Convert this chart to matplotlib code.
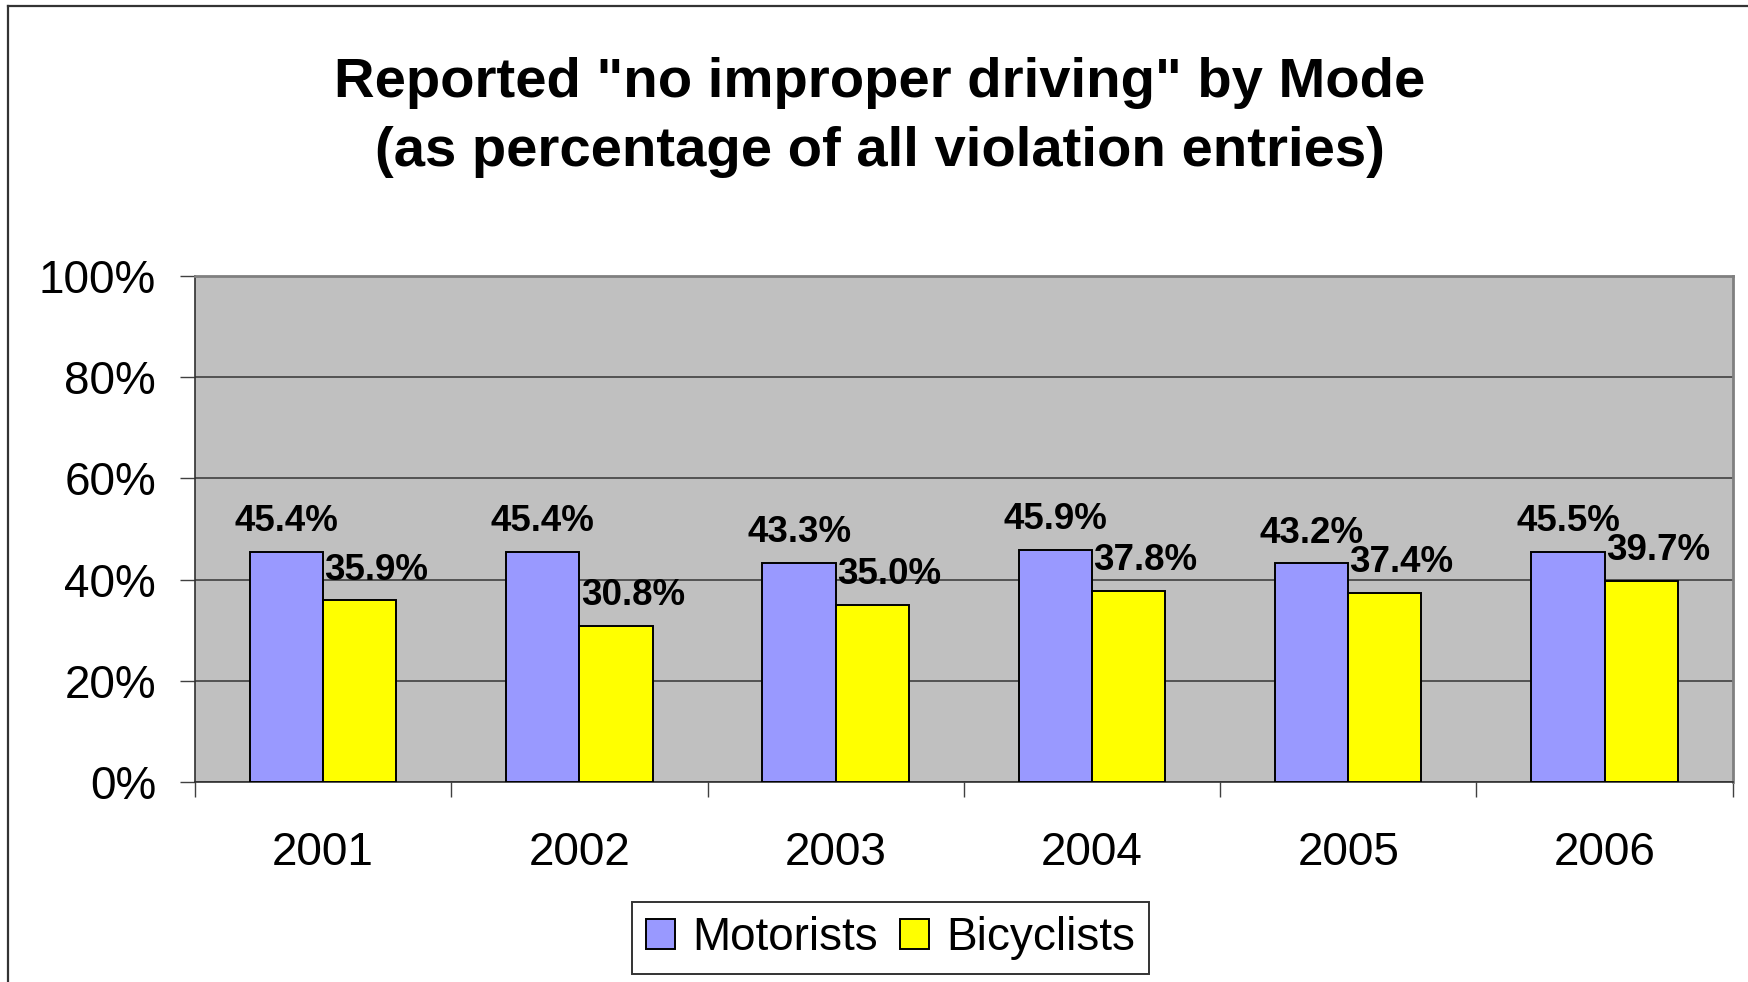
import numpy as np
import matplotlib.pyplot as plt
from matplotlib.lines import Line2D

plt.rcParams['font.family'] = ['Liberation Sans', 'DejaVu Sans']

# Data
years = ['2001', '2002', '2003', '2004', '2005', '2006']
motorists = [45.4, 45.4, 43.3, 45.9, 43.2, 45.5]
bicyclists = [35.9, 30.8, 35.0, 37.8, 37.4, 39.7]
yticks = [0, 20, 40, 60, 80, 100]

# Plot
fig = plt.figure(figsize=(17.49, 9.82), dpi=100)
ax = fig.add_axes([195 / 1749, 1 - 782.3 / 982, 1537.7 / 1749, 506.6 / 982])

x = np.arange(len(years))
w = 1 / 3.5
ax.bar(x - w / 2, motorists, w, color='#9999FF', edgecolor='black',
       linewidth=1.4, label='Motorists', zorder=3)
ax.bar(x + w / 2, bicyclists, w, color='#FFFF00', edgecolor='black',
       linewidth=1.4, label='Bicyclists', zorder=3)

for i in range(len(years)):
    ax.annotate('%.1f%%' % motorists[i], (x[i] - w / 2, motorists[i]),
                xytext=(0, 15), textcoords='offset points', ha='center',
                va='baseline', fontsize=26.5, fontweight='bold', zorder=4)
    ax.annotate('%.1f%%' % bicyclists[i], (x[i] + w / 2, bicyclists[i]),
                xytext=(12, 15), textcoords='offset points', ha='center',
                va='baseline', fontsize=26.5, fontweight='bold', zorder=4)

ax.set_facecolor('#C0C0C0')
ax.set_xlim(-0.5, len(years) - 0.5)
ax.set_ylim(0, 100)
ax.set_yticks(yticks)
ax.set_yticklabels(['%d%%' % v for v in yticks])
ax.yaxis.grid(True, color='#404040', linewidth=1.2, zorder=1)

# category boundaries get the ticks, centers get the labels
ax.set_xticks(np.arange(len(years) + 1) - 0.5)
ax.set_xticklabels([])
ax.set_xticks(x, minor=True)
ax.set_xticklabels(years, minor=True)
ax.tick_params(axis='x', which='major', length=11, width=1, color='#404040')
ax.tick_params(axis='x', which='minor', length=0, pad=35, labelsize=33)
ax.tick_params(axis='y', length=11, width=1, color='#404040', pad=17,
               labelsize=33)

for s in ['top', 'right']:
    ax.spines[s].set_color('#808080')
    ax.spines[s].set_linewidth(2)
for s in ['left', 'bottom']:
    ax.spines[s].set_color('#303030')
    ax.spines[s].set_linewidth(1.2)

# Title
fig.text(880 / 1749, 1 - 97 / 982, 'Reported "no improper driving" by Mode',
         ha='center', va='baseline', fontsize=40.5, fontweight='bold')
fig.text(880 / 1749, 1 - 166 / 982, '(as percentage of all violation entries)',
         ha='center', va='baseline', fontsize=40.5, fontweight='bold')

# Legend
leg = fig.legend(loc='center', bbox_to_anchor=(890.5 / 1749, 1 - 938 / 982),
                 ncol=2, fontsize=33, frameon=True, fancybox=False,
                 handlelength=0.63, handleheight=0.63, handletextpad=0.37,
                 columnspacing=0.5, borderpad=0.3, borderaxespad=0)
leg.get_frame().set_edgecolor('black')
leg.get_frame().set_linewidth(1.4)

# outer chart frame (cut at right and bottom)
fig.add_artist(Line2D([8 / 1749, 1], [1 - 5.5 / 982, 1 - 5.5 / 982],
                      color='#333333', linewidth=1.6))
fig.add_artist(Line2D([8 / 1749, 8 / 1749], [0, 1 - 5.5 / 982],
                      color='#333333', linewidth=1.6))

plt.savefig('out.png', dpi=100)
